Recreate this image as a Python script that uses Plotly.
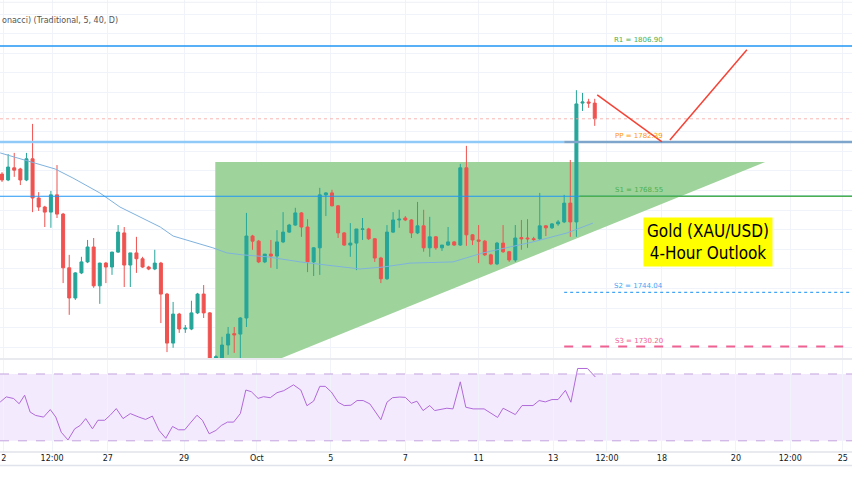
import plotly.graph_objects as go

# ---- candle data (4h bars, index order) ----
opens = [1774.2,1772.7,1775.8,1775.5,1772.7,1778.1,1768.1,1765.8,1764.5,1768.9,1764.0,1750.3,1742.6,1749.0,1751.8,1755.6,1745.7,1751.5,1750.5,1754.3,
         1759.2,1751.0,1754.1,1752.6,1750.5,1750.0,1751.5,1743.6,1731.1,1738.5,1734.7,1734.7,1738.8,1743.6,1738.8,1727.3,1727.3,1730.6,1733.5,1733.4,
         1737.5,1758.4,1757.1,1751.8,1753.8,1753.3,1756.9,1759.4,1761.2,1764.3,1760.7,1751.8,1755.4,1768.9,1769.4,1766.1,1759.2,1756.1,1756.6,1760.1,
         1760.2,1757.7,1752.8,1747.5,1759.4,1762.5,1763.0,1762.5,1759.2,1761.0,1755.4,1758.2,1755.4,1756.1,1756.9,1756.1,1775.8,1758.7,1757.4,1757.1,
         1753.6,1751.3,1756.6,1754.4,1752.3,1758.0,1757.9,1757.7,1757.7,1761.0,1760.5,1761.5,1762.0,1766.8,1762.0,1792.3,1792.6,1792.3]
highs = [1774.7,1779.3,1779.6,1775.8,1779.6,1787.0,1769.6,1766.1,1769.9,1776.5,1764.3,1753.6,1749.2,1753.1,1757.4,1757.9,1751.6,1751.8,1754.4,1761.2,
         1760.7,1754.1,1758.2,1753.1,1750.8,1754.9,1751.8,1743.9,1741.6,1738.8,1735.7,1741.9,1743.9,1745.9,1739.0,1728.0,1732.7,1735.2,1735.2,1737.7,
         1764.3,1758.7,1757.4,1753.6,1757.4,1759.9,1764.5,1761.5,1765.6,1764.5,1762.7,1755.6,1770.7,1769.6,1770.2,1766.3,1759.4,1761.7,1760.2,1763.0,
         1760.5,1757.9,1753.1,1761.2,1764.5,1765.1,1763.5,1762.7,1767.1,1765.1,1763.3,1758.4,1756.0,1760.7,1757.1,1776.8,1781.4,1758.9,1761.2,1757.4,
         1753.9,1756.9,1761.2,1754.6,1761.2,1762.5,1762.7,1758.2,1769.4,1761.2,1761.7,1762.5,1768.9,1777.8,1795.6,1794.9,1793.4,1793.4]
lows = [1772.2,1772.4,1773.5,1771.4,1772.4,1764.5,1764.8,1760.7,1760.5,1763.0,1746.4,1738.3,1742.1,1748.7,1751.5,1745.2,1741.1,1746.4,1748.5,1754.1,
        1745.4,1745.4,1749.0,1750.3,1749.7,1749.7,1736.2,1728.8,1729.9,1733.7,1733.7,1734.4,1738.5,1737.5,1726.0,1726.5,1727.0,1728.1,1728.6,1726.8,
        1735.2,1754.9,1751.5,1751.5,1750.3,1750.0,1756.6,1759.2,1761.0,1758.2,1749.2,1748.2,1748.5,1763.5,1766.0,1757.9,1755.9,1753.1,1749.7,1757.4,
        1757.4,1751.8,1746.4,1747.2,1759.2,1760.5,1762.2,1757.9,1758.9,1754.4,1753.1,1754.9,1754.6,1755.9,1755.9,1755.9,1755.9,1756.1,1751.5,1753.3,
        1751.0,1751.0,1754.1,1751.8,1751.8,1754.9,1755.4,1757.2,1757.4,1758.4,1760.2,1761.0,1761.7,1758.2,1758.2,1790.3,1791.1,1786.5]
closes = [1772.7,1776.0,1775.2,1772.7,1778.1,1768.1,1765.8,1764.5,1768.9,1764.0,1750.3,1742.6,1749.0,1751.8,1755.6,1745.7,1751.5,1750.5,1754.3,1759.4,
          1751.0,1754.1,1752.6,1750.5,1750.0,1751.5,1743.6,1731.1,1738.5,1734.7,1734.9,1738.8,1743.6,1738.8,1726.8,1727.6,1730.6,1733.4,1733.2,1737.5,
          1758.4,1757.1,1751.8,1753.8,1753.3,1756.9,1759.4,1761.2,1764.3,1760.7,1751.8,1755.4,1768.9,1769.4,1766.1,1759.2,1756.1,1756.6,1760.2,1760.2,
          1757.7,1752.8,1747.5,1759.4,1762.5,1762.7,1762.5,1759.2,1761.0,1755.4,1758.2,1755.4,1756.1,1756.9,1756.1,1775.8,1758.7,1757.4,1757.1,1753.6,
          1751.3,1756.6,1754.4,1752.3,1757.9,1757.7,1757.7,1757.5,1761.0,1760.5,1761.5,1762.0,1766.8,1762.0,1792.1,1792.6,1792.3,1788.3]
bar_idx = list(range(len(opens)))

# moving average
ma_x = [-0.3,2.5,5.1,8.7,11.6,16.0,19.3,22.6,25.9,28.0,30.3,32.4,34.5,36.8,39.4,43.4,48.8,54.2,58.6,62.4,66.8,73.8,78.7,86.9,92.5,96.7]
ma_y = [1779.6,1778.3,1777.0,1775.5,1773.2,1769.4,1765.8,1763.3,1760.7,1758.4,1757.4,1756.4,1755.4,1754.1,1753.6,1753.1,1751.8,1750.8,1750.0,1750.5,1751.5,1751.8,1754.1,1756.9,1759.2,1761.7]

# RSI
rsi_x = [-0.3,0.7,1.9,2.8,3.7,4.6,5.5,6.8,7.9,8.8,9.7,10.8,11.9,12.8,13.7,14.8,15.7,16.8,17.7,18.7,19.8,21.0,22.4,23.5,24.6,25.7,26.8,27.9,28.9,29.9,
         30.8,31.9,32.8,33.9,35.0,35.9,36.9,37.9,39.0,39.9,40.8,41.9,42.8,43.9,45.0,46.1,47.7,48.9,49.9,51.0,52.0,52.9,53.9,55.0,56.0,57.1,58.1,59.1,60.2,60.9,
         62.0,63.0,63.9,65.1,66.0,67.0,67.9,68.9,70.0,70.8,71.9,72.8,73.8,75.0,75.9,77.1,78.9,79.9,81.1,82.0,83.0,84.0,85.1,86.9,87.9,88.9,90.0,91.0,92.2,93.1,
         94.2,95.8,97.1]
rsi_y = [53.2,56.3,55.3,52.2,57.3,47.2,45.2,44.2,48.7,44.2,35.1,30.5,37.2,39.2,43.3,37.2,42.3,42.3,45.3,49.3,43.3,46.3,44.2,42.8,44.8,36.2,31.5,38.6,36.6,36.6,
         40.6,45.3,42.3,34.2,36.2,39.2,41.2,41.2,46.3,60.4,59.4,55.4,56.4,55.8,58.8,60.0,63.5,60.4,51.0,53.8,62.6,62.6,59.2,53.1,51.1,51.3,54.1,54.1,52.1,48.1,
         42.6,53.1,55.8,56.2,56.0,52.5,53.7,48.1,51.1,48.1,48.7,49.5,49.1,65.3,50.1,49.1,49.1,46.7,44.0,49.5,47.7,45.7,51.1,51.1,54.1,53.3,54.7,54.7,60.2,53.1,
         73.3,73.3,68.2]

# x-axis ticks
tick_pos = [0.3, 8.2, 17.3, 29.8, 41.7, 53.8, 66, 78, 90.2, 99, 108, 120.1, 129, 137.6]
tick_txt = ["2", "12:00", "27", "29", "Oct", "5", "7", "11", "13", "12:00", "18", "20", "12:00", "25"]

# pivot levels
R1, PP, S1, S2, S3 = 1806.90, 1782.39, 1768.55, 1744.04, 1730.20
last_price = 1788.3

# triangle and projection
tri_x = [34.9, 124.9, 45.8, 34.9]
tri_y = [1777.3, 1777.3, 1727.3, 1727.3]
proj1_x, proj1_y = [97.4, 108.0], [1794.4, 1782.4]
proj2_x, proj2_y = [109.3, 121.9], [1782.9, 1805.9]

XR = [-0.33, 139.1]
fig = go.Figure()
fig.add_trace(go.Scatter(x=ma_x, y=ma_y, mode="lines", line=dict(color="#7fb2dd", width=1), hoverinfo="skip", xaxis="x", yaxis="y"))
fig.add_trace(go.Candlestick(x=bar_idx, open=opens, high=highs, low=lows, close=closes,
                             increasing=dict(line=dict(color="#26a69a", width=1), fillcolor="#26a69a"),
                             decreasing=dict(line=dict(color="#ef5350", width=1), fillcolor="#ef5350"),
                             whiskerwidth=0, xaxis="x", yaxis="y"))
fig.add_trace(go.Scatter(x=rsi_x, y=rsi_y, mode="lines", line=dict(color="#b069d8", width=1), xaxis="x2", yaxis="y2"))

shapes = []
path = "M " + " L ".join(f"{a},{b}" for a, b in zip(tri_x, tri_y)) + " Z"
shapes.append(dict(type="path", path=path, xref="x", yref="y", fillcolor="rgb(158,212,155)", line=dict(width=0), layer="between"))
def hline(y, x0, x1, color, width=1, dash="solid"):
    shapes.append(dict(type="line", xref="x", yref="y", x0=x0, x1=x1, y0=y, y1=y, line=dict(color=color, width=width, dash=dash)))
hline(R1, XR[0], XR[1], "#2196f3", 1.5)
hline(last_price, XR[0], XR[1], "#f4a3a0", 0.8, "dot")
hline(PP, XR[0], 92, "#90caf9", 2.5)
hline(PP, 92, XR[1], "#7ea6cc", 2.5)
hline(S1, XR[0], XR[1], "#2196f3", 1.2)
hline(S1, 94.5, XR[1], "#4caf50", 1.5)
hline(S2, 92, XR[1], "#42a5f5", 1.2, "dot")
hline(S3, 92, XR[1], "#f06292", 2, "dash")
for px, py in [(proj1_x, proj1_y), (proj2_x, proj2_y)]:
    shapes.append(dict(type="line", xref="x", yref="y", x0=px[0], x1=px[1], y0=py[0], y1=py[1], line=dict(color="#f44336", width=1.5)))
# RSI band
shapes.append(dict(type="rect", xref="x2 domain", yref="y2", x0=0, x1=1, y0=30, y1=70, fillcolor="rgba(190,140,250,0.18)", line=dict(width=0), layer="below"))
for lv in [30, 70]:
    shapes.append(dict(type="line", xref="x2 domain", yref="y2", x0=0, x1=1, y0=lv, y1=lv, line=dict(color="#c3a3de", width=1, dash="dash")))
# panel separators
for yy in [0.206, 0.0, -0.03]:
    shapes.append(dict(type="line", xref="paper", yref="paper", x0=0, x1=1, y0=yy, y1=yy, line=dict(color="#e0e3eb", width=1.5)))
shapes.append(dict(type="line", xref="paper", yref="paper", x0=0, x1=1, y0=0.995, y1=0.995, line=dict(color="#eef0f4", width=1)))

ann = []
for txt, y, col in [("R1 = 1806.90", R1, "#4caf50"), ("PP = 1782.39", PP, "#ff9800"), ("S1 = 1768.55", S1, "#4caf50"),
                    ("S2 = 1744.04", S2, "#42a5f5"), ("S3 = 1730.20", S3, "#f06292")]:
    ann.append(dict(xref="x", yref="y", x=104.2, y=y, text=txt, showarrow=False, yanchor="bottom", xanchor="center",
                    font=dict(size=7, color=col, family="DejaVu Sans")))
ann.append(dict(xref="paper", yref="paper", x=0, y=0.955, xanchor="left", yanchor="middle", showarrow=False,
                text="onacci) (Traditional, 5, 40, D)", font=dict(size=8, color="#555", family="DejaVu Sans")))
ann.append(dict(xref="x", yref="y", x=115.5, y=1756.8, showarrow=False, text="Gold (XAU/USD)<br>4-Hour Outlook",
                bgcolor="#ffff00", borderpad=3, font=dict(size=17, color="#000", family="Liberation Sans Narrow, DejaVu Sans Condensed, sans-serif")))

fig.update_layout(
    width=852, height=485, margin=dict(l=0, r=0, t=0, b=33, autoexpand=False), plot_bgcolor="white", paper_bgcolor="white",
    showlegend=False, shapes=shapes, annotations=ann,
    xaxis=dict(range=XR, domain=[0, 1], anchor="y", showticklabels=False, rangeslider=dict(visible=False),
               tickvals=tick_pos, showgrid=True, gridcolor="#f0f3fa", zeroline=False, automargin=False),
    yaxis=dict(range=[1727.3, 1818.6], domain=[0.208, 1], showticklabels=False, dtick=5, gridcolor="#f0f3fa", zeroline=False, automargin=False),
    xaxis2=dict(range=XR, domain=[0, 1], anchor="y2", tickvals=tick_pos, ticktext=tick_txt, showgrid=True, gridcolor="#f0f3fa",
                tickfont=dict(size=8, color="#131722", family="DejaVu Sans"), zeroline=False, ticks="", automargin=False),
    yaxis2=dict(range=[23.3, 78.5], domain=[0, 0.204], showticklabels=False, showgrid=False, zeroline=False, automargin=False),
)
fig.write_html("out.html", config={"displayModeBar": False})
with open("out.html", encoding="utf-8") as f:
    html = f.read()
html = html.replace("<head>", "<head><style>html,body{margin:0;padding:0;overflow:hidden;}</style>", 1)
with open("out.html", "w", encoding="utf-8") as f:
    f.write(html)
